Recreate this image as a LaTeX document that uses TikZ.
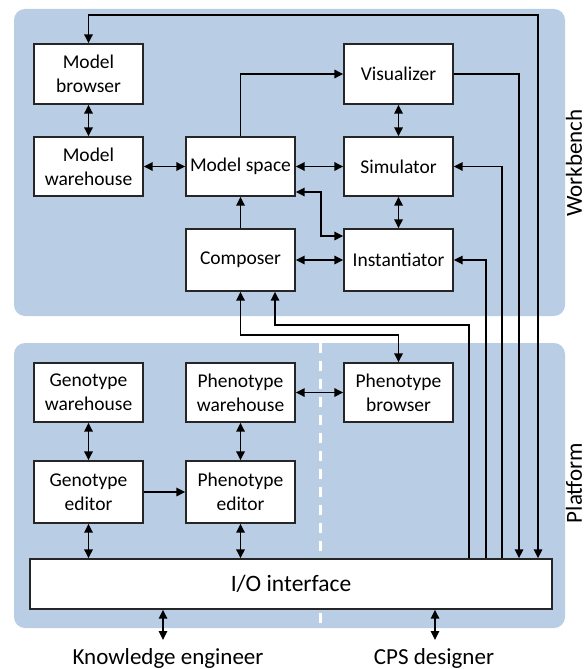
\documentclass[tikz,border=0pt]{standalone}
\usepackage{fontspec}
\setmainfont{Carlito}
\usetikzlibrary{arrows.meta,calc}
\definecolor{panel}{HTML}{B9CDE5}
\definecolor{edge}{HTML}{262626}
\tikzset{
  box/.style={draw=edge, line width=1.4pt, fill=white, minimum width=109pt, minimum height=60pt,
    align=center, inner sep=0pt, font=\fontsize{19.5}{24}\selectfont},
  conn/.style={line width=1.6pt, arrows={-Triangle[length=9pt,width=8.5pt]}},
  dconn/.style={line width=1.6pt, arrows={Triangle[length=9pt,width=8.5pt]-Triangle[length=9pt,width=8.5pt]}},
  biglabel/.style={font=\fontsize{23}{27}\selectfont, inner sep=0pt},
  panelbox/.style={fill=panel, rounded corners=11pt, draw=none}
}
\begin{document}
\begin{tikzpicture}[x=1pt,y=-1pt]
\useasboundingbox (0,0) rectangle (585,669);
% panels
\fill[panelbox] (14,9) rectangle (565,316);
\fill[panelbox] (14,343) rectangle (565,628);
\draw[white, line width=3pt, dash pattern=on 10pt off 8pt] (320,343) -- (320,628);
% labels
\node[biglabel, rotate=90] (wb) at (574,163) {Workbench};
\node[biglabel, rotate=90] (pf) at (574,483) {Platform};
\node[biglabel] (ke) at (168,658) {Knowledge engineer};
\node[biglabel] (cps) at (434,658) {CPS designer};
% workbench nodes
\node[box] (mb) at (88.5,74) {Model\\browser};
\node[box, minimum height=59pt] (mw) at (88.5,166.5) {Model\\warehouse};
\node[box, minimum height=59pt] (ms) at (240.5,166.5) {Model space};
\node[box, minimum height=62pt] (comp) at (240.5,260) {Composer};
\node[box] (vis) at (398.5,74) {Visualizer};
\node[box, minimum height=59pt] (sim) at (398.5,166.5) {Simulator};
\node[box, minimum height=62pt] (inst) at (398.5,260) {Instantiator};
% platform nodes
\node[box, minimum height=59pt] (gw) at (88.5,392.5) {Genotype\\warehouse};
\node[box, minimum height=62pt] (ge) at (88.5,492) {Genotype\\editor};
\node[box, minimum height=59pt] (pw) at (240.5,392.5) {Phenotype\\warehouse};
\node[box, minimum height=62pt] (pe) at (240.5,492) {Phenotype\\editor};
\node[box, minimum height=59pt] (pb) at (398.5,392.5) {Phenotype\\browser};
\node[box, minimum width=522pt, minimum height=50pt, font=\fontsize{23.5}{27}\selectfont] (io) at (291,584) {I/O interface};
% helper coordinates
\coordinate (c1) at (469,325);
\coordinate (c2) at (486,0);
\coordinate (c3) at (502,0);
\coordinate (c4) at (519,0);
\coordinate (c5) at (538,15);
\coordinate (cb) at (275,325);
\coordinate (yb) at (0,335);
\coordinate (kea) at (163,640);
\coordinate (cpa) at (435,640);
% workbench connectors
\draw[dconn] (mb.south) -- (mw.north);
\draw[dconn] (mw.east) -- (ms.west);
\draw[dconn] (ms.east) -- (sim.west);
\draw[dconn] (vis.south) -- (sim.north);
\draw[dconn] (sim.south) -- (inst.north);
\draw[dconn] (comp.east) -- (inst.west);
\draw[conn] (comp.north) -- (ms.south);
\draw[conn] (ms.north) |- (vis.west);
\draw[dconn] ([yshift=-25.5pt]ms.east) -- ++(25,0) |- ([yshift=24pt]inst.west);
% long connectors
\draw[dconn] (c5 |- io.north) -- (c5) -| (mb.north);
\draw[conn] (vis.east) -| (c4 |- io.north);
\draw[conn] (c3 |- io.north) |- (sim.east);
\draw[conn] (c2 |- io.north) |- (inst.east);
\draw[conn] (c1 |- io.north) -- (c1) -- (cb) -- (cb |- comp.south);
\draw[dconn] (comp.south) |- (yb -| pb.north) -- (pb.north);
% platform connectors
\draw[dconn] (gw.south) -- (ge.north);
\draw[dconn] (pw.south) -- (pe.north);
\draw[conn] (ge.east) -- (pe.west);
\draw[dconn] (pw.east) -- (pb.west);
\draw[dconn] (ge.south) -- (ge.south |- io.north);
\draw[dconn] (pe.south) -- (pe.south |- io.north);
\draw[dconn] (io.south -| kea) -- (kea);
\draw[dconn] (io.south -| cpa) -- (cpa);
\end{tikzpicture}
\end{document}
